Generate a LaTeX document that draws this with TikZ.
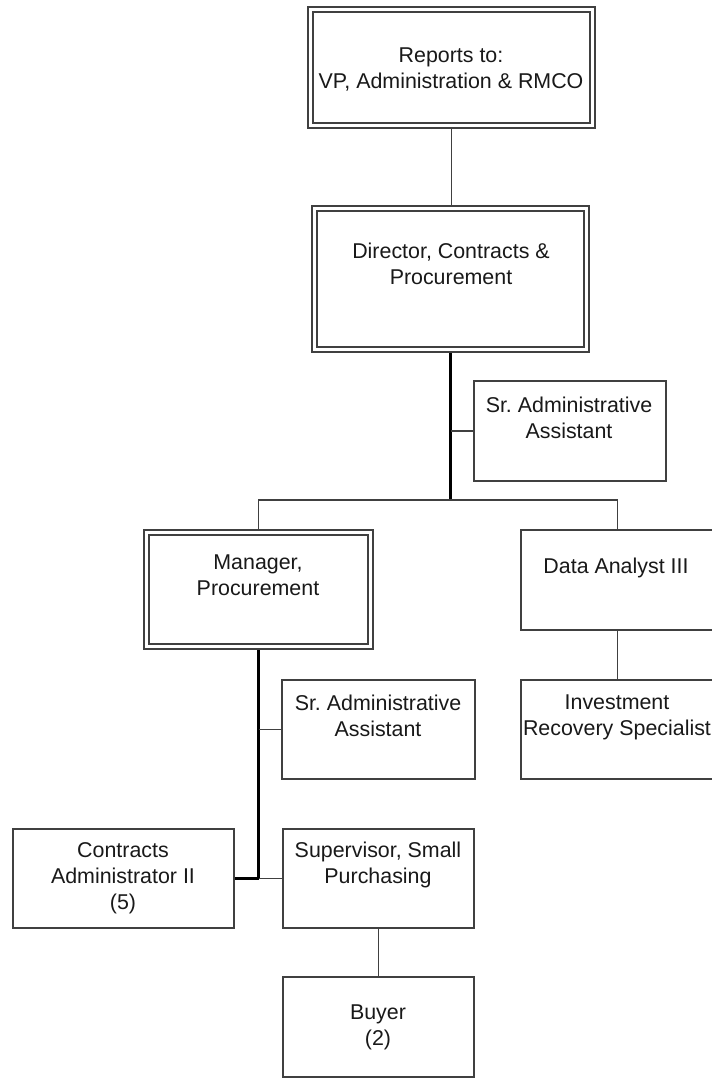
\documentclass[tikz,border=0pt]{standalone}
\usepackage{fontspec}
\setmainfont{Liberation Sans}
\usetikzlibrary{backgrounds}
\begin{document}
\begin{tikzpicture}[x=1pt,y=-1pt,
  box/.style={rectangle, draw=black!75, line width=1.8pt, fill=white, inner sep=0pt, outer sep=0pt},
  dblbox/.style={rectangle, draw=black!75, line width=1.6pt, double=white, double distance=3.2pt, fill=white, inner sep=0pt, outer sep=0pt},
  txt/.style={anchor=north, align=center, inner sep=0pt, text=black!90, font=\fontsize{21.4}{26}\selectfont\frenchspacing},
  link/.style={draw=black!75, line width=1.8pt},
  trunk/.style={draw=black, line width=2.6pt}]
\useasboundingbox (0,0) rectangle (712,1079);

% boxes
\node[dblbox, minimum width=282pt, minimum height=116pt] (top) at (451.5,67.5) {};
\node[dblbox, minimum width=272pt, minimum height=141pt] (dir) at (450.5,279) {};
\node[box, minimum width=192pt, minimum height=100pt] (sra) at (570,431) {};
\node[dblbox, minimum width=224pt, minimum height=114pt] (mgr) at (258.5,589.5) {};
\node[box, minimum width=193pt, minimum height=100pt] (data) at (617.5,580) {};
\node[box, minimum width=193pt, minimum height=99pt] (inv) at (617.5,729.5) {};
\node[box, minimum width=193pt, minimum height=99pt] (srb) at (378.5,729.5) {};
\node[box, minimum width=221pt, minimum height=99pt] (con) at (123.5,878.5) {};
\node[box, minimum width=191pt, minimum height=99pt] (sup) at (378.5,878.5) {};
\node[box, minimum width=191pt, minimum height=100pt] (buy) at (378.5,1027) {};

% titles
\node[txt] (top-t) at (451,47.5) {Reports to:\\VP, Administration \& RMCO};
\node[txt] (dir-t) at (451,242.5) {Director, Contracts \&\\Procurement};
\node[txt] (sra-t) at (569,396.5) {Sr. Administrative\\Assistant};
\node[txt] (mgr-t) at (258,554.5) {Manager,\\Procurement};
\node[txt] (data-t) at (616,557.5) {Data Analyst III};
\node[txt] (inv-t) at (617,694.5) {Investment\\Recovery Specialist};
\node[txt] (srb-t) at (378,694.5) {Sr. Administrative\\Assistant};
\node[txt] (con-t) at (123,842.5) {Contracts\\Administrator II\\(5)};
\node[txt] (sup-t) at (378,841.5) {Supervisor, Small\\Purchasing};
\node[txt] (buy-t) at (378,1004.5) {Buyer\\(2)};

% reporting lines
\coordinate (hub) at (450.5,500);
\begin{scope}[on background layer]
  \draw[link] (top.south) -- (top.south |- dir.north);
  \draw[trunk] (dir.south) -- (hub);
  \draw[link] (sra.west) -- (sra.west -| hub);
  \draw[link] (mgr.north) |- (hub) -| (data.north);
  \draw[link] (data.south) -- (inv.north);
  \draw[trunk] (mgr.south) -- (mgr.south |- con.east);
  \draw[link] (srb.west) -- (srb.west -| mgr.south);
  \draw[trunk] (con.east) -- (con.east -| mgr.south);
  \draw[link] (con.east -| mgr.south) -- (sup.west);
  \draw[link] (sup.south) -- (buy.north);
\end{scope}
\end{tikzpicture}
\end{document}
